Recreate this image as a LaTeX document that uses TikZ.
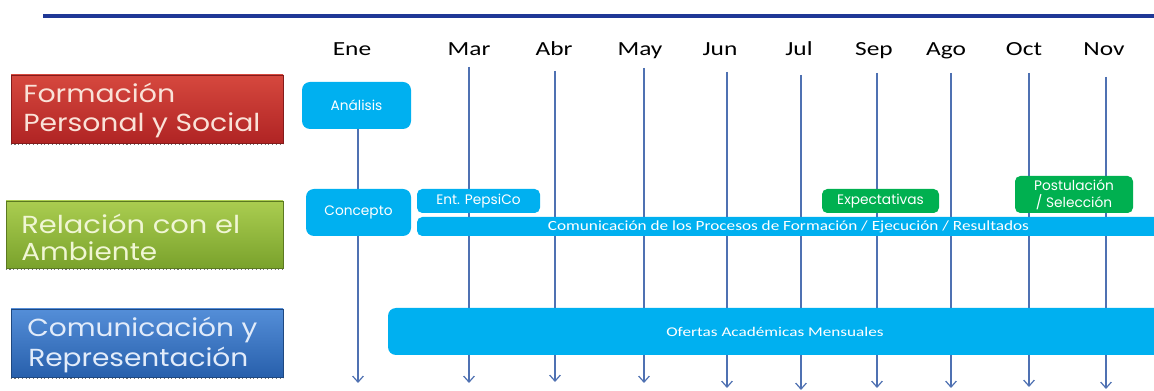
\documentclass[tikz,border=0pt]{standalone}
\usepackage{fontspec}
\usepackage{graphicx}
\setmainfont{Carlito}
\newfontfamily\gothic{Poppins}
\usetikzlibrary{arrows.meta}
\definecolor{topline}{RGB}{31,56,150}
\definecolor{linec}{RGB}{79,113,178}
\definecolor{cyanbox}{RGB}{0,176,240}
\definecolor{greenbox}{RGB}{0,176,80}
\definecolor{redtop}{RGB}{214,72,62}
\definecolor{redbot}{RGB}{176,36,36}
\definecolor{grntop}{RGB}{170,205,80}
\definecolor{grnbot}{RGB}{122,162,44}
\definecolor{blutop}{RGB}{84,142,216}
\definecolor{blubot}{RGB}{40,96,172}
\definecolor{redtxt}{RGB}{250,226,216}
\definecolor{grntxt}{RGB}{240,246,212}
\definecolor{blutxt}{RGB}{226,236,250}
\newcommand{\fitw}[2]{\resizebox{#1}{\height}{#2}}
\newcommand{\hs}[2]{\scalebox{#1}[1]{#2}}
\begin{document}
\begin{tikzpicture}[x=0.75pt,y=-0.75pt,
  catbox/.style n args={2}{rectangle, inner sep=0pt, minimum width=204pt, minimum height=51pt,
     top color=#1, bottom color=#2, draw=#2!75!black, line width=0.4pt},
  cattext/.style={anchor=base west, inner sep=0pt, font=\gothic\fontsize{18.5}{18.5}\selectfont, text=#1},
  month/.style={anchor=base, inner sep=0pt, font=\fontsize{15}{15}\selectfont, text=black},
  vline/.style={draw=linec, line width=0.9pt, -{Straight Barb[length=4.5pt,width=8pt]}},
  shadowline/.style={draw=black!55, dotted, line width=0.8pt},
  bigbox/.style={rectangle, rounded corners=6pt, fill=cyanbox, inner sep=0pt,
     minimum height=35.25pt, text=white, font=\gothic\fontsize{10.3}{12}\selectfont},
  smallbox/.style={rectangle, rounded corners=4pt, fill=#1, inner sep=0pt,
     minimum height=18pt, text=white, font=\gothic\fontsize{10.3}{12.75}\selectfont},
  barbox/.style={rectangle, rounded corners=4pt, fill=cyanbox, inner sep=0pt, text=white,
     font=\fontsize{10.5}{12}\selectfont}
]
\clip (0,0) rectangle (1154,391);
\fill[white] (0,0) rectangle (1154,391);

% top rule
\coordinate (rule-l) at (43,16);
\coordinate (rule-r) at (1154,16);
\draw[topline, line width=3pt] (rule-l) -- (rule-r);

% category boxes
\node[catbox={redtop}{redbot}] (formacion) at (147,109) {};
\draw[shadowline] ([yshift=-1pt]formacion.south west) -- ([yshift=-1pt]formacion.south east);
\node[cattext=redtxt] (formacion-1) at (23,103) {\fitw{114pt}{Formación}};
\node[cattext=redtxt] (formacion-2) at (23,132) {\fitw{177.75pt}{Personal y Social}};

\node[catbox={grntop}{grnbot}, minimum width=207.75pt, minimum height=50.25pt] (relacion) at (144.5,234.5) {};
\draw[shadowline] ([yshift=-1pt]relacion.south west) -- ([yshift=-1pt]relacion.south east);
\node[cattext=grntxt] (relacion-1) at (21,234) {\fitw{164.25pt}{Relación con el}};
\node[cattext=grntxt] (relacion-2) at (21,261) {\fitw{102pt}{Ambiente}};

\node[catbox={blutop}{blubot}] (comunicacion) at (147,343) {};
\draw[shadowline] ([yshift=-1pt]comunicacion.south west) -- ([yshift=-1pt]comunicacion.south east);
\node[cattext=blutxt] (comunicacion-1) at (27,337) {\fitw{172.5pt}{Comunicación y}};
\node[cattext=blutxt] (comunicacion-2) at (28,367) {\fitw{165pt}{Representación}};

% months and their lines
\node[month] (ene) at (352,56) {\hs{1.27}{Ene}};
\foreach \n/\lab/\lx/\x/\t/\b in {
  mar/Mar/469/469/67/383,
  abr/Abr/554/555/71/382,
  may/May/640/644/68/383,
  jun/Jun/720/727/72/388,
  jul/Jul/799/801/75/390,
  sep/Sep/874/877/73/388,
  ago/Ago/946/951/73/388,
  oct/Oct/1024/1029/73/387,
  nov/Nov/1104/1106/77/389}{
  \node[month] (\n) at (\lx,56) {\hs{1.27}{\lab}};
  \coordinate (\n-top) at (\x,\t);
  \coordinate (\n-end) at (\x,\b);
  \draw[vline] (\n-top) -- (\n-end);
}

% Ene column
\node[bigbox, minimum width=81.75pt] (analisis) at (356.5,105.5) {Análisis};
\coordinate (ene-end) at (358,383);
\draw[vline] (analisis.south -| ene-end) -- (ene-end);
\node[bigbox, minimum width=78.75pt] (concepto) at (358.5,212.5) {Concepto};

% relation row
\node[smallbox=cyanbox, minimum width=92.25pt] (pepsico) at (478.5,201) {Ent. PepsiCo};
\node[barbox, minimum width=557.25pt, minimum height=14.25pt] (procesos) at (788.5,226.5)
  {\hs{1.23}{Comunicación de los Procesos de Formación / Ejecución / Resultados}};
\node[smallbox=greenbox, minimum width=87.75pt] (expectativas) at (880.5,201) {Expectativas};
\node[smallbox=greenbox, minimum width=88.5pt, minimum height=27.75pt, align=center]
  (postulacion) at (1074,194.5) {Postulación\\/ Selección};

% communication row
\node[barbox, rounded corners=6pt, minimum width=580.5pt, minimum height=35.25pt,
  font=\fontsize{10}{12}\selectfont] (ofertas) at (775,331.5) {\hs{1.29}{Ofertas Académicas Mensuales}};
\end{tikzpicture}
\end{document}
